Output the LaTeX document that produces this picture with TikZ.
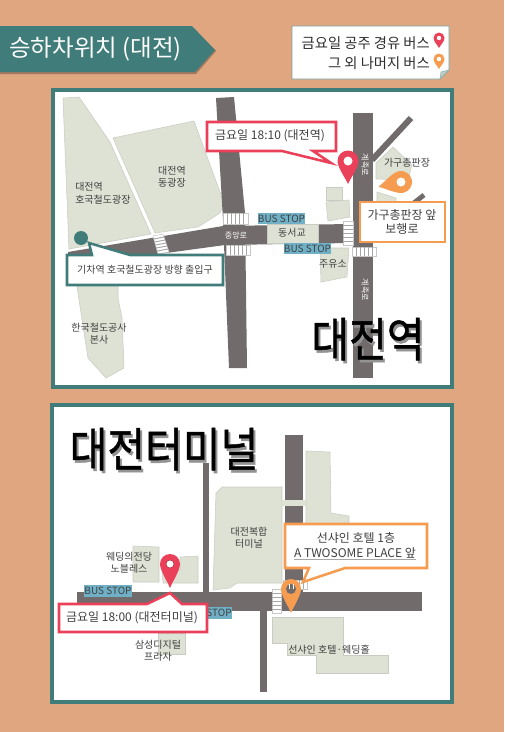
\documentclass[tikz,border=0pt]{standalone}
\usepackage{graphicx}
\usepackage{fontspec}
\setmainfont{Noto Sans CJK KR}
\newfontfamily\bigfont[FakeBold=1]{Noto Sans CJK KR}
\usetikzlibrary{calc}
\definecolor{bgc}{HTML}{E0A680}
\definecolor{teal1}{HTML}{407C79}
\definecolor{road}{HTML}{716B6B}
\definecolor{land}{HTML}{DDE2D4}
\definecolor{landb}{HTML}{C8CCC2}
\definecolor{redp}{HTML}{EA4059}
\definecolor{orgp}{HTML}{F59C50}
\definecolor{busc}{HTML}{6FB0C6}
\definecolor{txt}{HTML}{404040}
\newcommand{\fspx}[1]{\fontsize{\dimexpr#1pt*3/4\relax}{\dimexpr#1pt*9/10\relax}\selectfont}
% large caption: one node, grey drop shadow set under the black letters
\newcommand{\shadowed}[1]{\scalebox{1}[1.14]{\rlap{\kern1.5pt\raisebox{-1.8pt}{\textcolor{black!42}{#1}}}#1}}
\tikzset{
  x=0.75pt,y=-0.75pt,
  landshape/.style={fill=land,draw=landb,line width=0.4pt},
  roadshape/.style={fill=road},
  panelbox/.style={fill=white,draw=teal1,line width=3pt},
  label/.style={inner sep=0pt,text=txt,font=\fspx{10},align=center},
  roadlabel/.style={inner sep=0pt,text=white,font=\fspx{8}},
  calloutt/.style={inner sep=0pt,text=txt,font=\fspx{12},align=center},
  calloutline/.style={line width=1.9pt,fill=white,line join=miter},
  busstop/.style={fill=busc,text=txt,inner sep=0pt,minimum width=33.75pt,minimum height=8.6pt,font=\fspx{10}},
  bigtxt/.style={inner sep=0pt,text=black,font=\bigfont\fspx{41}},
}
\newcommand{\mappin}[6]{% x y r h rot colour
  \begin{scope}[shift={(#1,#2)},rotate=#5]
    \fill[#6] (0,#4) .. controls (-0.3*#3,0.7*#4) and (-#3,0.6*#3) .. (-#3,0)
      arc (180:360:#3) .. controls (#3,0.6*#3) and (0.3*#3,0.7*#4) .. (0,#4) -- cycle;
  \end{scope}}
\newcommand{\crosswalk}[5]{% corners A B C D, stripes n: stripes parallel to AB
  \fill[white,draw=black!22,line width=0.4pt] #1 -- #2 -- #3 -- #4 -- cycle;
  \foreach \k in {1,...,#5}{
    \pgfmathsetmacro{\tt}{\k/(#5+1)}
    \draw[black!35,line width=0.7pt] ($#1!\tt!#4$) -- ($#2!\tt!#3$);
  }}
\begin{document}
\begin{tikzpicture}
\useasboundingbox (0,0) rectangle (504,732);
\fill[bgc] (0,0) rectangle (504,732);

% header banner
\fill[black!28!bgc] (0,28) -- (193,28) -- (216,51) -- (196,74) -- (0,74) -- cycle;
\fill[teal1] (0,26) -- (192,26) -- (215,50) -- (195,72) -- (0,72) -- cycle;
\node[inner sep=0pt,text=white,font=\fspx{23.5}] (title) at (95.5,49) {승하차위치 (대전)};

% legend
\fill[white,draw=teal1!70,line width=0.6pt] (292,26) -- (449,26) -- (449,70) -- (440,79) -- (292,79) -- cycle;
\fill[land!80!teal1,draw=teal1!60,line width=0.4pt] (449,70) -- (440,79) -- (441,72) -- cycle;
\node[inner sep=0pt,anchor=east,text=txt!70!black,font=\fspx{14.3}] (leg1) at (430,43) {금요일 공주 경유 버스};
\node[inner sep=0pt,anchor=east,text=txt!70!black,font=\fspx{14.3}] (leg2) at (430,63) {그 외 나머지 버스};
\mappin{439}{38}{5.5}{10}{0}{redp}
\fill[white] (439,38) circle (2.2);
\mappin{439}{59}{5.5}{10}{0}{orgp}
\fill[white] (439,59) circle (2.2);

% ===== panel 1 =====
\draw[panelbox] (52.5,89.5) rectangle (452,386.5);
\draw[landshape] (63,98) -- (79,97) -- (110,142) -- (151,234) -- (69,249) -- cycle;
\draw[landshape] (113,138) -- (194,121) -- (224,203) -- (220,213) -- (198,227) -- (155,233) -- cycle;
\draw[landshape] (76,280) -- (118,280) -- (118,298) -- (122,318) -- (124,368) -- (106,378) -- (88,358) -- cycle;
\draw[landshape] (376,163) -- (393,147) -- (412,165) -- (408,180) -- (376,179) -- cycle;
\draw[landshape] (377,192) -- (396,198) -- (396,206) -- (377,206) -- cycle;
\draw[landshape] (326,187) -- (342,187) -- (342,200) -- (326,200) -- cycle;
\draw[landshape] (326,202) -- (349,200) -- (350,217) -- (328,221) -- cycle;
\draw[landshape] (320,248) -- (349,248) -- (347,277) -- (321,282) -- cycle;
% roads
\fill[roadshape] (216,98) -- (234,97) -- (245,213) -- (247,368) -- (229,368) -- (223,220) -- cycle;
\fill[roadshape] (68,252) -- (223,226) -- (350,224) -- (350,243) -- (225,245) -- (100,262) -- (68,262) -- cycle;
\fill[roadshape] (353,113) rectangle (373,378);
\draw[road,line width=4.5pt] (372,160) -- (411,118);
\draw[road,line width=3.6pt] (424,195) -- (410,206);
\draw[landshape] (267,224) rectangle (318,243);
% crossings
\crosswalk{(223,213)}{(223,224)}{(248,224)}{(248,213)}{5}
\crosswalk{(226,245)}{(226,255)}{(250,255)}{(250,245)}{5}
\crosswalk{(153,236)}{(163,234)}{(169,252)}{(158,254)}{5}
\crosswalk{(343,221)}{(353,221)}{(353,245)}{(343,245)}{5}
\crosswalk{(352,247)}{(352,256)}{(376,256)}{(376,247)}{5}
% labels
\node[busstop] (bs1) at (281.5,218.5) {BUS STOP};
\node[busstop] (bs2) at (307.5,248.5) {BUS STOP};
\node[label,anchor=west,align=left] (l1) at (75,187) {대전역};
\node[label,anchor=west,align=left] (l1b) at (75,200) {호국철도광장};
\node[label] (l2) at (172,177) {대전역\\동광장};
\node[label] (l3) at (99,334) {한국철도공사\\본사};
\node[label] (l4) at (407,163) {가구총판장};
\node[label] (l5) at (333,264) {주유소};
\node[label] (l6) at (292,233) {동서교};
\node[roadlabel] (r1) at (236,235) {중앙로};
\node[roadlabel,rotate=-90] (r2) at (365,165) {계족로};
\node[roadlabel,rotate=-90] (r3) at (365,290) {계족로};
% teal marker and callout
\fill[teal1] (81,238) circle (7);
\draw[calloutline,draw=teal1] (67,255) -- (92,255) -- (89,243) -- (130,255) -- (223,255) -- (223,285) -- (67,285) -- cycle;
\node[calloutt,font=\fspx{10}] (c1) at (145,270) {기차역 호국철도광장 방향 출입구};
% red callout
\draw[calloutline,draw=redp] (207,122) -- (336,122) -- (336,151) -- (313,151) -- (331,163) -- (282,151) -- (207,151) -- cycle;
\node[calloutt] (c2) at (270,136) {금요일 18:10 (대전역)};
\mappin{348}{161}{10.5}{23}{0}{redp}
\fill[white] (348,161) circle (4.5);
\mappin{401}{182}{11}{23}{-78}{orgp}
\fill[white] (401,182) circle (4.5);
% orange box
\draw[calloutline,draw=orgp] (360,202) rectangle (445,242);
\node[calloutt] (c3) at (402,222) {가구총판장 앞\\보행로};
% big title
\node[bigtxt] (big1) at (368,340.5) {\shadowed{대전역}};

% ===== panel 2 =====
\draw[panelbox] (52,405) rectangle (452,702);
\draw[landshape] (213,590) -- (216,493) -- (222,487) -- (282,487) -- (282,583) -- (237,583) -- (230,588) -- cycle;
\draw[landshape] (306,451) -- (330,452) -- (331,513) -- (349,516) -- (349,530) -- (306,530) -- cycle;
\draw[landshape] (133,546) -- (159,547) -- (159,582) -- (133,582) -- cycle;
\draw[landshape] (180,557) -- (198,556) -- (198,583) -- (163,583) -- (162,570) -- (180,570) -- cycle;
\draw[landshape] (158,633) -- (185,633) -- (185,654) -- (158,654) -- cycle;
\draw[landshape] (272,617) -- (343,617) -- (343,655) -- (388,655) -- (388,673) -- (316,673) -- (316,655) -- (287,655) -- (287,643) -- (272,643) -- cycle;
\fill[roadshape] (77,592) rectangle (422,611);
\fill[roadshape] (203,463) rectangle (209,592);
\fill[roadshape] (285,435) rectangle (303,592);
\fill[roadshape] (260,611) rectangle (267,692);
\fill[land] (282,500) rectangle (306,506);
\crosswalk{(272,589)}{(281,589)}{(281,613)}{(272,613)}{5}
\crosswalk{(283,580)}{(283,589)}{(307,589)}{(307,580)}{5}
\node[busstop] (bs3) at (108,591) {BUS STOP};
\node[busstop,minimum width=17pt] (bs4) at (219,613) {STOP};
\node[label] (l7) at (129,562.5) {웨딩의전당\\노블레스};
\node[label] (l8) at (249,538) {대전복합\\터미널};
\node[label] (l9) at (158,650.5) {삼성디지털\\프라자};
\node[label] (l10) at (329,650) {선샤인 호텔·웨딩홀};
% red callout
\draw[calloutline,draw=redp] (59,604) -- (147,604) -- (170,593) -- (182,604) -- (207,604) -- (207,632) -- (59,632) -- cycle;
\node[calloutt] (c4) at (132,617.5) {금요일 18:00 (대전터미널)};
\mappin{170}{564}{10}{24}{0}{redp}
\fill[white,draw=redp!70!black,line width=0.4pt] (170,564) circle (4);
% orange callout
\draw[calloutline,draw=orgp] (285,524) -- (427,524) -- (427,568) -- (345,568) -- (303,582) -- (309,568) -- (285,568) -- cycle;
\node[calloutt] (c5) at (356,538) {선샤인 호텔 1층};
\node[calloutt,text depth=0pt] (c6) at (355,553) {A TWOSOME PLACE 앞};
\draw[black!35,line width=0.6pt] ($(c6.south west)+(0,1)$) -- ($(c6.south east)+(0,1)$);
\mappin{291}{589}{10}{24}{0}{orgp}
\fill[road] (291,589) circle (5);
\draw[white,line width=0.6pt] (289,584) -- (289,589) (293,584) -- (293,589);
% big title
\node[bigtxt] (big2) at (164,450.5) {\shadowed{대전터미널}};
\end{tikzpicture}
\end{document}
